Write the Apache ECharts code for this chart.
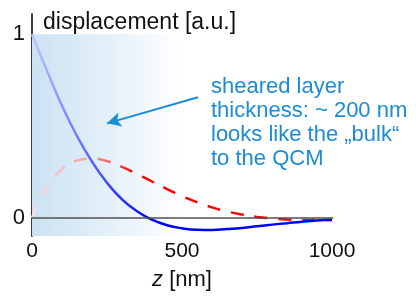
<!DOCTYPE html>
<html>
<head>
<meta charset="utf-8">
<script src="https://cdn.jsdelivr.net/npm/echarts@6/dist/echarts.min.js"></script>
<style>
  html, body { margin: 0; padding: 0; background: #fff; }
  #chart { width: 416px; height: 300px; }
</style>
</head>
<body>
<div id="chart"></div>
<script>
// depth z in nm
const depth = [0, 50, 100, 150, 200, 250, 300, 350, 400, 450, 500,
  550, 600, 650, 700, 750, 800, 850, 900, 950, 1000]
// in-phase displacement (blue, solid)
const displacementBlue = [1.0, 0.80, 0.61, 0.445, 0.305, 0.19, 0.10, 0.035, -0.011, -0.041, -0.058,
  -0.066, -0.067, -0.062, -0.056, -0.047, -0.038, -0.030, -0.022, -0.016, -0.010]
// out-of-phase displacement (red, dashed)
const displacementRed = [0.0, 0.165, 0.264, 0.311, 0.322, 0.308, 0.277, 0.238, 0.197, 0.156, 0.117,
  0.084, 0.056, 0.034, 0.017, 0.004, -0.004, -0.010, -0.012, -0.014, -0.014]
const xTicks = [0, 500, 1000]
const yTicks = [0, 1]
const arrowFrom = [553, 0.656]
const arrowTo = [250, 0.514]

const font = 'Liberation Sans, Arial, sans-serif'
const chart = echarts.init(document.getElementById('chart'))

chart.setOption({
  animation: false,
  title: [{
    text: 'displacement [a.u.]',
    left: 38,
    top: 6,
    textStyle: { fontFamily: font, fontSize: 23, fontWeight: 'normal', color: '#111' }
  }, {
    text: 'sheared layer\nthickness: ~ 200 nm\nlooks like the \u201ebulk\u201c\nto the QCM',
    left: 206,
    top: 70,
    textStyle: {
      fontFamily: font, fontSize: 22, fontWeight: 'normal',
      color: '#1a8cd8', lineHeight: 24
    }
  }],
  grid: { left: 32, right: 84, top: 14, bottom: 64 },
  xAxis: {
    type: 'value',
    min: 0,
    max: 1000,
    interval: 500,
    name: '{i|z} [nm]',
    nameLocation: 'middle',
    nameGap: 33,
    nameTextStyle: {
      fontFamily: font, fontSize: 22, color: '#111',
      rich: { i: { fontFamily: font, fontSize: 22, fontStyle: 'italic', color: '#111' } }
    },
    axisLine: { lineStyle: { color: '#3c3c3c', width: 2 } },
    axisTick: { show: false },
    splitLine: { show: false },
    axisLabel: {
      customValues: xTicks,
      formatter: v => String(v),
      margin: 5,
      fontFamily: font, fontSize: 21, color: '#111'
    }
  },
  yAxis: {
    type: 'value',
    min: -0.1,
    max: 1.11,
    axisLine: { show: true, lineStyle: { color: '#3c3c3c', width: 2 } },
    axisTick: { show: false },
    splitLine: { show: false },
    axisLabel: {
      customValues: yTicks,
      margin: 7,
      fontFamily: font, fontSize: 22, color: '#111'
    }
  },
  series: [{
    // background band and zero line
    type: 'line',
    data: [],
    z: 1,
    silent: true,
    markArea: {
      silent: true,
      itemStyle: {
        opacity: 1,
        color: {
          type: 'linear', x: 0, y: 0, x2: 1, y2: 0,
          colorStops: [
            { offset: 0, color: '#cbe2f3' },
            { offset: 0.25, color: '#e3f0f9' },
            { offset: 0.5, color: '#ffffff' }
          ]
        }
      },
      data: [[{ coord: [0, -0.1] }, { coord: [1000, 1] }]]
    },
    markLine: {
      silent: true,
      symbol: 'none',
      label: { show: false },
      lineStyle: { color: '#505050', width: 1.5, type: 'solid' },
      data: [{ yAxis: 0 }]
    }
  }, {
    name: 'blue',
    type: 'line',
    smooth: true,
    symbol: 'none',
    z: 3,
    lineStyle: {
      width: 2.5,
      color: {
        type: 'linear', x: 0, y: 0, x2: 1, y2: 0,
        colorStops: [
          { offset: 0, color: '#c4c8ff' },
          { offset: 0.2, color: '#5a64ff' },
          { offset: 0.4, color: '#0000ff' },
          { offset: 1, color: '#0000ff' }
        ]
      }
    },
    data: depth.map((z, i) => [z, displacementBlue[i]])
  }, {
    name: 'red',
    type: 'line',
    smooth: true,
    symbol: 'none',
    z: 2,
    lineStyle: {
      width: 2.5,
      type: [13, 11],
      color: {
        type: 'linear', x: 0, y: 0, x2: 1, y2: 0,
        colorStops: [
          { offset: 0, color: '#fae4e4' },
          { offset: 0.2, color: '#f49c9c' },
          { offset: 0.35, color: '#ff0000' },
          { offset: 1, color: '#ff0000' }
        ]
      }
    },
    data: depth.map((z, i) => [z, displacementRed[i]])
  }, {
    // annotation arrow
    type: 'line',
    data: [],
    z: 4,
    silent: true,
    markLine: {
      silent: true,
      symbol: ['none', 'arrow'],
      symbolSize: [11, 14],
      label: { show: false },
      lineStyle: { color: '#1a8cd8', width: 2, type: 'solid' },
      data: [[{ coord: arrowFrom }, { coord: arrowTo }]]
    }
  }]
})
</script>
</body>
</html>
